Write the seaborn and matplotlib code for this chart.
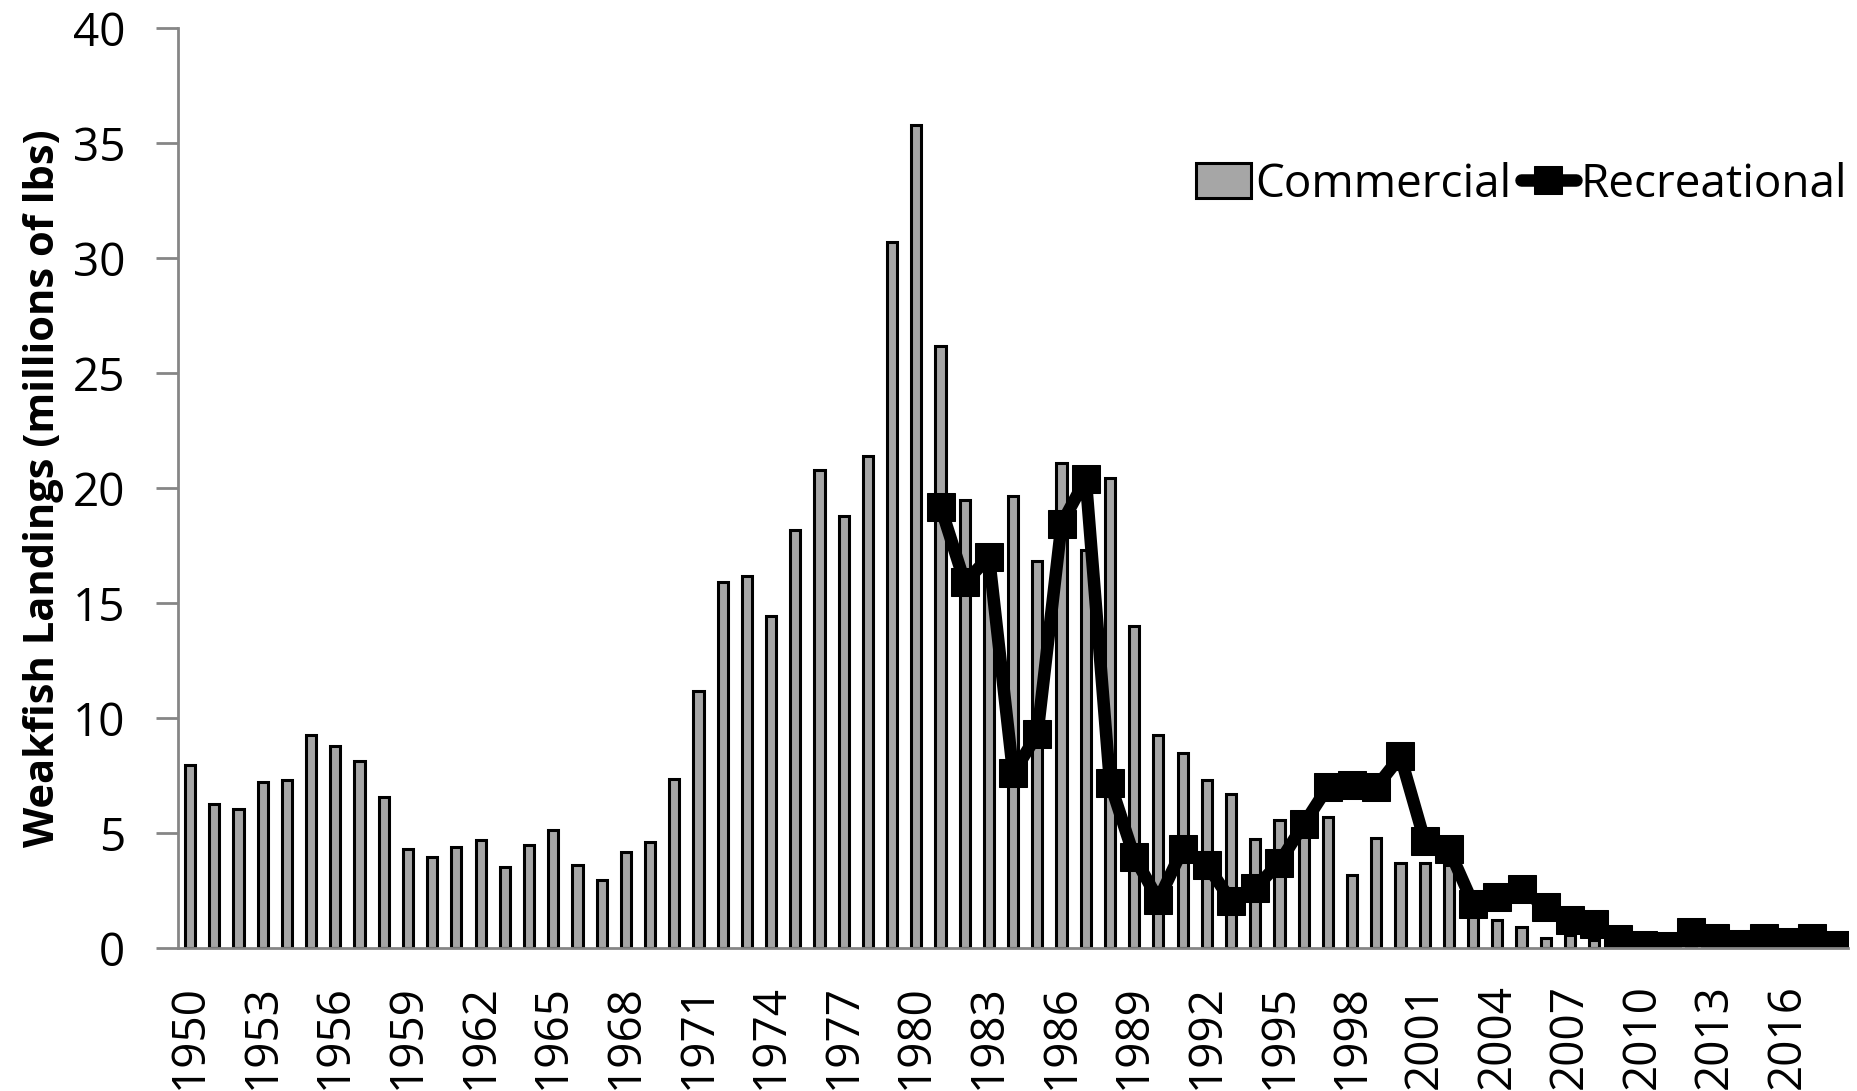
# Weakfish landings: commercial (bars) vs recreational (line)

import numpy as np
import pandas as pd
import matplotlib
matplotlib.use("Agg")
import matplotlib.pyplot as plt
import seaborn as sns

# ----------------------------------------------------------
# Data (millions of lbs)
# ----------------------------------------------------------

years = list(range(1950, 2019))

commercial = [7.98, 6.26, 6.05, 7.23, 7.29, 9.27, 8.79, 8.15, 6.56, 4.31,
              3.95, 4.40, 4.71, 3.52, 4.48, 5.15, 3.60, 2.95, 4.16, 4.63,
              7.34, 11.16, 15.9, 16.2, 14.46, 18.2, 20.8, 18.8, 21.4, 30.7,
              35.8, 26.2, 19.5, 16.5, 19.67, 16.85, 21.1, 17.3, 20.45, 14.0,
              9.28, 8.48, 7.29, 6.68, 4.73, 5.57, 5.0, 5.7, 3.2, 4.8,
              3.7, 3.7, 3.6, 1.6, 1.2, 0.91, 0.45, 0.56, 0.33, 0.2,
              0.1, 0.1, 0.2, 0.15, 0.1, 0.1, 0.1, 0.1, 0.1]

rec_years = list(range(1981, 2019))
recreational = [19.2, 15.9, 17.0, 7.6, 9.3, 18.45, 20.4, 7.19, 3.97,
                2.09, 4.3, 3.62, 2.06, 2.61, 3.72, 5.38, 7.01, 7.11, 7.01,
                8.34, 4.66, 4.3, 1.92, 2.2, 2.57, 1.77, 1.2, 1.05, 0.4,
                0.14, 0.07, 0.69, 0.45, 0.19, 0.45, 0.26, 0.45, 0.12]

yticks = [0, 5, 10, 15, 20, 25, 30, 35, 40]

df_com = pd.DataFrame({"year": [str(y) for y in years], "value": commercial})
df_rec = pd.DataFrame({"pos": [years.index(y) for y in rec_years],
                       "value": recreational})

# ----------------------------------------------------------
# Plot
# ----------------------------------------------------------

sns.set_style("white")
plt.rcParams["font.family"] = ["Open Sans", "DejaVu Sans"]
plt.rcParams["text.color"] = "black"
plt.rcParams["axes.labelcolor"] = "black"
plt.rcParams["xtick.labelcolor"] = "black"
plt.rcParams["ytick.labelcolor"] = "black"

fig = plt.figure(figsize=(18.58, 10.91), dpi=100)
ax = fig.add_axes([0.0958, 0.131, 0.899, 0.843])

sns.barplot(data=df_com, x="year", y="value", color="#A6A6A6",
            edgecolor="black", linewidth=2.2, width=0.42, saturation=1,
            label="Commercial", ax=ax)

sns.lineplot(data=df_rec, x="pos", y="value", color="black", linewidth=9,
             marker="s", markersize=20, markeredgecolor="black",
             label="Recreational", ax=ax)

ax.set_xlim(-0.5, len(years) - 0.5)
ax.set_ylim(0, 40)
ax.set_yticks(yticks)
ax.set_yticklabels([str(t) for t in yticks], fontsize=33)

# year labels every 3 years, ticks at category boundaries
ax.set_xticks(np.arange(len(years))[::3])
ax.set_xticklabels([str(y) for y in years][::3], rotation=90, fontsize=33)
ax.set_xticks(np.arange(len(years) + 1) - 0.5, minor=True)
ax.tick_params(axis="x", which="major", length=0, pad=26)
ax.tick_params(axis="x", which="minor", length=16, width=2, color="#868686")
ax.tick_params(axis="y", length=16, width=2, color="#868686", pad=22,
               left=True)

ax.set_xlabel("")
ax.set_ylabel("Weakfish Landings (millions of lbs)", fontsize=30,
              fontweight="bold")
ax.yaxis.set_label_coords(-0.068, 0.5)

for s in ["top", "right"]:
    ax.spines[s].set_visible(False)
for s in ["left", "bottom"]:
    ax.spines[s].set_color("#868686")
    ax.spines[s].set_linewidth(2)

handles, labels = ax.get_legend_handles_labels()
order = [labels.index("Commercial"), labels.index("Recreational")]
ax.legend([handles[i] for i in order], [labels[i] for i in order],
          loc="upper right", bbox_to_anchor=(1.01, 0.875), ncol=2,
          frameon=False, fontsize=33, handlelength=1.2, handleheight=0.8,
          handletextpad=0.1, columnspacing=0.2, borderaxespad=0)

fig.savefig("out.png", dpi=100)
